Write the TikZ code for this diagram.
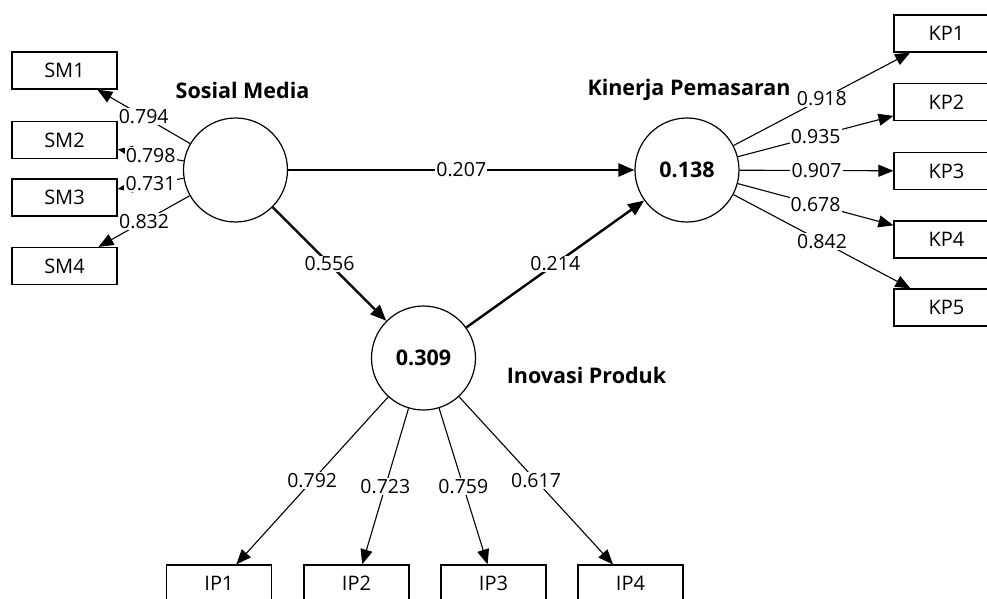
\documentclass[tikz,border=0pt]{standalone}
\usepackage{fontspec}
\setmainfont{Open Sans}
\usetikzlibrary{arrows.meta}
\begin{document}
\begin{tikzpicture}[x=1pt,y=-1pt,
  lv/.style={circle,draw,line width=1.2pt,minimum size=104pt,inner sep=0pt,font=\fontsize{21.5}{24}\selectfont\bfseries},
  mv/.style={rectangle,draw,line width=1.2pt,minimum width=105pt,minimum height=37pt,inner sep=0pt,font=\fontsize{20}{24}\selectfont},
  ld/.style={line width=1.1pt,-{Triangle[length=15pt,width=12pt]}},
  pth/.style={line width=2.4pt,-{Triangle[length=16pt,width=13pt]}},
  lab/.style={fill=white,inner sep=1.2pt,font=\fontsize{19.5}{23}\selectfont},
  ttl/.style={font=\fontsize{21.5}{24}\selectfont\bfseries}
]
\useasboundingbox (0,0) rectangle (987,599);
\clip (0,0) rectangle (987,599);

% latent variables
\node[lv] (SM) at (235.5,170) {};
\node[lv] (KP) at (687,170) {0.138};
\node[lv] (IP) at (423.5,358) {0.309};

% titles
\node[ttl] (tSM) at (242.5,90) {Sosial Media};
\node[ttl] (tKP) at (689,90) {Kinerja Pemasaran};
\node[ttl] (tIP) at (586.5,375) {Inovasi Produk};

% indicators
\node[mv] (SM1) at (64.5,70.5) {SM1};
\node[mv] (SM2) at (64.5,140) {SM2};
\node[mv] (SM3) at (64.5,197.5) {SM3};
\node[mv] (SM4) at (64.5,266) {SM4};

\node[mv] (KP1) at (946.5,33.5) {KP1};
\node[mv] (KP2) at (946.5,102) {KP2};
\node[mv] (KP3) at (946.5,171) {KP3};
\node[mv] (KP4) at (946.5,239.5) {KP4};
\node[mv] (KP5) at (946.5,307.5) {KP5};

\node[mv] (IP1) at (219,583.5) {IP1};
\node[mv] (IP2) at (356.5,583.5) {IP2};
\node[mv] (IP3) at (493.5,583.5) {IP3};
\node[mv] (IP4) at (630.5,583.5) {IP4};

% outer loadings
\draw[ld] (SM) -- node[lab]{0.794} (SM1);
\draw[ld] (SM) -- node[lab]{0.798} (SM2);
\draw[ld] (SM) -- node[lab]{0.731} (SM3);
\draw[ld] (SM) -- node[lab]{0.832} (SM4);

\draw[ld] (KP) -- node[lab]{0.918} (KP1);
\draw[ld] (KP) -- node[lab]{0.935} (KP2);
\draw[ld] (KP) -- node[lab]{0.907} (KP3);
\draw[ld] (KP) -- node[lab]{0.678} (KP4);
\draw[ld] (KP) -- node[lab]{0.842} (KP5);

\draw[ld] (IP) -- node[lab]{0.792} (IP1);
\draw[ld] (IP) -- node[lab]{0.723} (IP2);
\draw[ld] (IP) -- node[lab]{0.759} (IP3);
\draw[ld] (IP) -- node[lab]{0.617} (IP4);

% path coefficients
\draw[pth] (SM) -- node[lab]{0.207} (KP);
\draw[pth] (SM) -- node[lab]{0.556} (IP);
\draw[pth] (IP) -- node[lab]{0.214} (KP);
\end{tikzpicture}
\end{document}
